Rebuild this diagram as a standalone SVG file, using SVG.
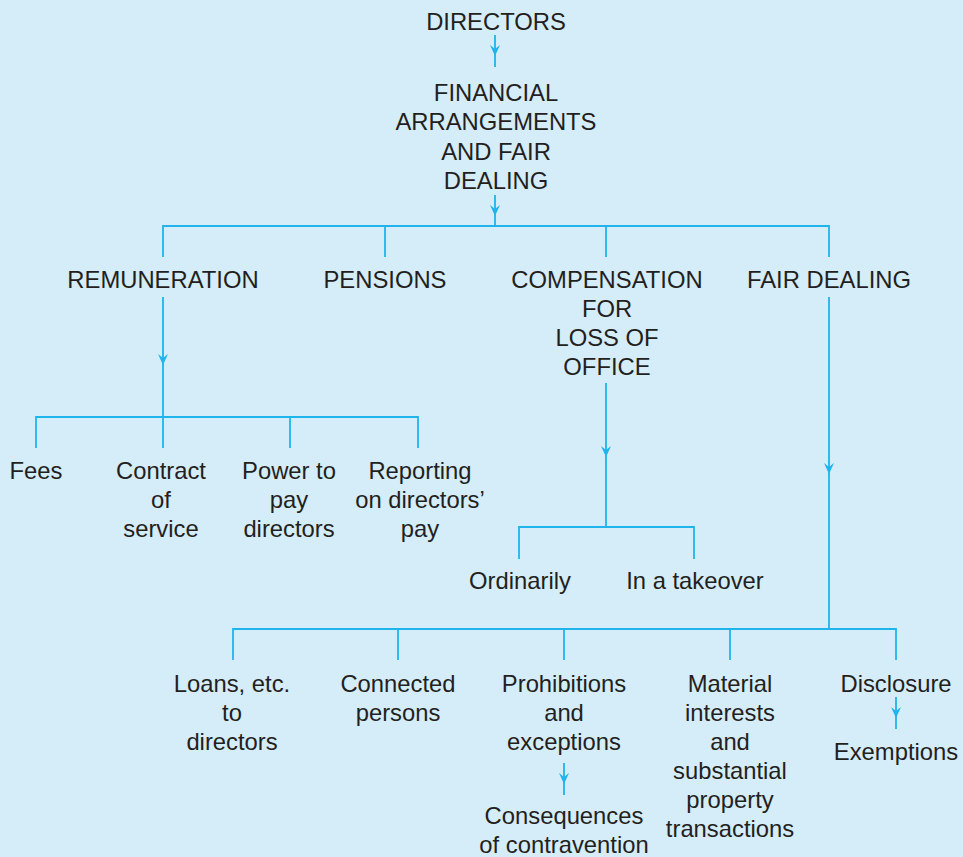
<svg xmlns="http://www.w3.org/2000/svg" width="963" height="857" viewBox="0 0 963 857">
<style>
text{font-family:"Liberation Sans",Arial,sans-serif;font-size:23.8px;fill:#231f20;text-anchor:middle}
.c{fill:none;stroke:#1fb4ec;stroke-width:1.8}
</style>
<defs>
<marker id="ah" markerUnits="userSpaceOnUse" markerWidth="14" markerHeight="14" viewBox="-12 -7 14 14" refX="0" refY="0" orient="auto">
<path d="M0,0 L-11,-5 L-7,0 L-11,5 Z" fill="#1fb4ec"/>
</marker>
</defs>
<rect width="963" height="857" fill="#d5ecf9"/>
<g id="connectors">
<path class="c" d="M495 35 V56 V67" marker-mid="url(#ah)"/>
<path class="c" d="M495 195 V216 V226" marker-mid="url(#ah)"/>
<path class="c" d="M163 257 V226 H829 V257 M385 226 V257 M606 226 V257"/>
<path class="c" d="M163 297 V365 V417" marker-mid="url(#ah)"/>
<path class="c" d="M36 448 V417 H418 V448 M163 417 V448 M290 417 V448"/>
<path class="c" d="M606 383 V457 V527" marker-mid="url(#ah)"/>
<path class="c" d="M519 559 V527 H694 V559"/>
<path class="c" d="M829 297 V474 V629" marker-mid="url(#ah)"/>
<path class="c" d="M233 660 V629 H896 V660 M398 629 V660 M564 629 V660 M730 629 V660"/>
<path class="c" d="M564 763 V784 V795" marker-mid="url(#ah)"/>
<path class="c" d="M896 697 V718 V729" marker-mid="url(#ah)"/>
</g>
<g id="directors"><text x="496" y="30">DIRECTORS</text></g>
<g id="financial"><text x="496" y="101">FINANCIAL</text><text x="496" y="130">ARRANGEMENTS</text><text x="496" y="160">AND FAIR</text><text x="496" y="189">DEALING</text></g>
<g id="remuneration"><text x="163" y="288">REMUNERATION</text></g>
<g id="pensions"><text x="385" y="288">PENSIONS</text></g>
<g id="compensation"><text x="607" y="288">COMPENSATION</text><text x="607" y="317">FOR</text><text x="607" y="346">LOSS OF</text><text x="607" y="375">OFFICE</text></g>
<g id="fairdealing"><text x="829" y="288">FAIR DEALING</text></g>
<g id="fees"><text x="36" y="479">Fees</text></g>
<g id="contract"><text x="161" y="479">Contract</text><text x="161" y="508">of</text><text x="161" y="537">service</text></g>
<g id="power"><text x="289" y="479">Power to</text><text x="289" y="508">pay</text><text x="289" y="537">directors</text></g>
<g id="reporting"><text x="420" y="479">Reporting</text><text x="420" y="508">on directors’</text><text x="420" y="537">pay</text></g>
<g id="ordinarily"><text x="520" y="589">Ordinarily</text></g>
<g id="takeover"><text x="695" y="589">In a takeover</text></g>
<g id="loans"><text x="232" y="692">Loans, etc.</text><text x="232" y="721">to</text><text x="232" y="750">directors</text></g>
<g id="connected"><text x="398" y="692">Connected</text><text x="398" y="721">persons</text></g>
<g id="prohibitions"><text x="564" y="692">Prohibitions</text><text x="564" y="721">and</text><text x="564" y="750">exceptions</text></g>
<g id="consequences"><text x="564" y="824">Consequences</text><text x="564" y="853">of contravention</text></g>
<g id="material"><text x="730" y="692">Material</text><text x="730" y="721">interests</text><text x="730" y="750">and</text><text x="730" y="779">substantial</text><text x="730" y="808">property</text><text x="730" y="837">transactions</text></g>
<g id="disclosure"><text x="896" y="692">Disclosure</text></g>
<g id="exemptions"><text x="896" y="760">Exemptions</text></g>
</svg>
